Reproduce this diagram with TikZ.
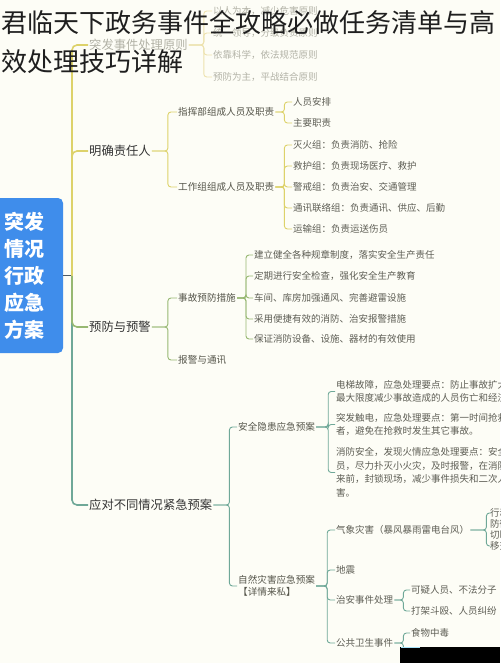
\documentclass[tikz,border=0pt]{standalone}
\usepackage{fontspec}
\setmainfont{Noto Sans CJK SC}
\definecolor{bgc}{HTML}{FDFDF6}
\definecolor{rootblue}{HTML}{3F8DEB}
\definecolor{ycol}{HTML}{DDD26A}
\definecolor{yfade}{HTML}{EDE2AE}
\definecolor{gcol}{HTML}{97B872}
\definecolor{tcol}{HTML}{6FA898}
\definecolor{maintext}{HTML}{333333}
\definecolor{subtext}{HTML}{55554A}
\definecolor{leaftext}{HTML}{5E5E55}
\definecolor{fadetext}{HTML}{B2B2A6}
\definecolor{hubline}{HTML}{4E5A66}
\begin{document}
\begin{tikzpicture}[x=1pt,y=-1pt,
  title/.style={anchor=west,inner sep=0pt,font=\fontsize{26}{30}\selectfont,text=black!88},
  mainlab/.style={anchor=west,inner sep=1pt,font=\fontsize{12.3}{14}\selectfont,text=maintext},
  sublab/.style={anchor=west,inner sep=1pt,font=\fontsize{9.6}{11}\selectfont,text=subtext},
  leaf/.style={anchor=west,inner sep=1pt,font=\fontsize{9.5}{11}\selectfont,text=leaftext},
  para/.style={anchor=west,inner sep=1pt,align=left,font=\fontsize{9.5}{13.5}\selectfont,text=leaftext},
  fade/.style={text=fadetext},
  lk/.style={line width=0.9pt,rounded corners=3pt},
  spine/.style={line width=1.6pt,rounded corners=5pt}]
\useasboundingbox (0,0) rectangle (500,663);
\fill[bgc] (0,0) rectangle (500,663);
\clip (0,0) rectangle (500,663);

% root
\node[fill=rootblue,rounded corners=5pt,minimum width=76pt,minimum height=155pt,inner sep=0pt,
  text=white,align=center,font=\fontsize{20}{27}\selectfont\bfseries] (root) at (25,275.5)
  {突发\\情况\\行政\\应急\\方案};
\coordinate (hub) at (72,275.5);

% main labels
\node[mainlab,fade] (p0) at (88,45) {突发事件处理原则};
\node[mainlab] (p1) at (88,151) {明确责任人};
\node[mainlab] (p2) at (88,327) {预防与预警};
\node[mainlab] (p3) at (88,505) {应对不同情况紧急预案};

% spine
\draw[hubline,line width=1.2pt] (root.east) -- (hub);
\draw[spine,tcol] (hub) |- (p3.west);
\draw[spine,gcol] (hub) |- (p2.west);
\draw[spine,ycol] (hub) |- (p1.west);
\draw[spine,ycol] (hub) |- (p0.west);

% branch 0 (faded)
\node[leaf,fade] (q01) at (212,11) {以人为本，减少危害原则};
\node[leaf,fade] (q02) at (212,33) {统一领导，分级负责原则};
\node[leaf,fade] (q03) at (212,55) {依靠科学，依法规范原则};
\node[leaf,fade] (q04) at (212,77) {预防为主，平战结合原则};
\foreach \c in {q01,q02,q03,q04}{\draw[lk,yfade] (p0.east) -- ++(15,0) |- (\c.west);}

% branch 1
\node[sublab] (a1) at (177,112) {指挥部组成人员及职责};
\node[sublab] (a2) at (177,187) {工作组组成人员及职责};
\foreach \c in {a1,a2}{\draw[lk,ycol] (p1.east) -- ++(16,0) |- (\c.west);}
\node[leaf] (a11) at (292,102) {人员安排};
\node[leaf] (a12) at (292,123) {主要职责};
\foreach \c in {a11,a12}{\draw[lk,ycol] (a1.east) -- ++(9,0) |- (\c.west);}
\node[leaf] (a21) at (292,145) {灭火组：负责消防、抢险};
\node[leaf] (a22) at (292,166) {救护组：负责现场医疗、救护};
\node[leaf] (a23) at (292,187) {警戒组：负责治安、交通管理};
\node[leaf] (a24) at (292,208) {通讯联络组：负责通讯、供应、后勤};
\node[leaf] (a25) at (292,229) {运输组：负责运送伤员};
\foreach \c in {a21,a22,a23,a24,a25}{\draw[lk,ycol] (a2.east) -- ++(9,0) |- (\c.west);}

% branch 2
\node[sublab] (b1) at (177,298) {事故预防措施};
\node[sublab] (b2) at (177,360) {报警与通讯};
\foreach \c in {b1,b2}{\draw[lk,gcol] (p2.east) -- ++(16,0) |- (\c.west);}
\node[leaf] (b11) at (253,255) {建立健全各种规章制度，落实安全生产责任};
\node[leaf] (b12) at (253,276) {定期进行安全检查，强化安全生产教育};
\node[leaf] (b13) at (253,298) {车间、库房加强通风、完善避雷设施};
\node[leaf] (b14) at (253,319) {采用便捷有效的消防、治安报警措施};
\node[leaf] (b15) at (253,339) {保证消防设备、设施、器材的有效使用};
\foreach \c in {b11,b12,b13,b14,b15}{\draw[lk,gcol] (b1.east) -- ++(9,0) |- (\c.west);}

% branch 3
\node[sublab] (c1) at (237,427) {安全隐患应急预案};
\node[sublab,align=left,font=\fontsize{9.6}{12}\selectfont] (c2) at (237,586) {自然灾害应急预案\\【详情来私】};
\foreach \c in {c1,c2}{\draw[lk,tcol] (p3.east) -- ++(16,0) |- (\c.west);}
\node[para] (c11) at (335,391.5) {电梯故障，应急处理要点：防止事故扩大，\\最大限度减少事故造成的人员伤亡和经济损失。};
\node[para] (c12) at (335,424.5) {突发触电，应急处理要点：第一时间抢救触电\\者，避免在抢救时发生其它事故。};
\node[para] (c13) at (335,472.5) {消防安全，发现火情应急处理要点：安全疏散人\\员，尽力扑灭小火灾，及时报警，在消防队到\\来前，封锁现场，减少事件损失和二次人员伤\\害。};
\foreach \c in {c11,c12,c13}{\draw[lk,tcol] (c1.east) -- ++(12,0) |- (\c.west);}
\node[leaf] (c21) at (335,530) {气象灾害（暴风暴雨雷电台风）};
\node[leaf] (c22) at (335,570) {地震};
\node[leaf] (c23) at (335,600) {治安事件处理};
\node[leaf] (c24) at (335,643) {公共卫生事件};
\foreach \c in {c21,c22,c23,c24}{\draw[lk,tcol] (c2.east) -- ++(11,0) |- (\c.west);}
\node[leaf] (c211) at (489,513) {行动};
\node[leaf] (c212) at (489,524) {防御};
\node[leaf] (c213) at (489,535) {切断};
\node[leaf] (c214) at (489,546) {移交};
\draw[lk,tcol] (c21.east) -- ++(16,0) |- (c211.west);
\draw[lk,tcol] (c21.east) -- ++(16,0) |- (c214.west);
\node[leaf] (c231) at (410,590) {可疑人员、不法分子};
\node[leaf] (c232) at (410,611) {打架斗殴、人员纠纷};
\foreach \c in {c231,c232}{\draw[lk,tcol] (c23.east) -- ++(9,0) |- (\c.west);}
\node[leaf] (c241) at (410,633) {食物中毒};
\draw[lk,tcol] (c24.east) -- ++(9,0) |- (c241.west);
\draw[lk,tcol] (c24.east) -- ++(9,0) -- ++(0,18);

% artefact at bottom right
\fill[black] (400,647) rectangle (500,663);
\draw[cyan!35,line width=1pt] (401,647) -- (420,647);

% title overlay
\node[title] (t1) at (1,23) {君临天下政务事件全攻略必做任务清单与高};
\node[title] (t2) at (1,62) {效处理技巧详解};
\end{tikzpicture}
\end{document}
